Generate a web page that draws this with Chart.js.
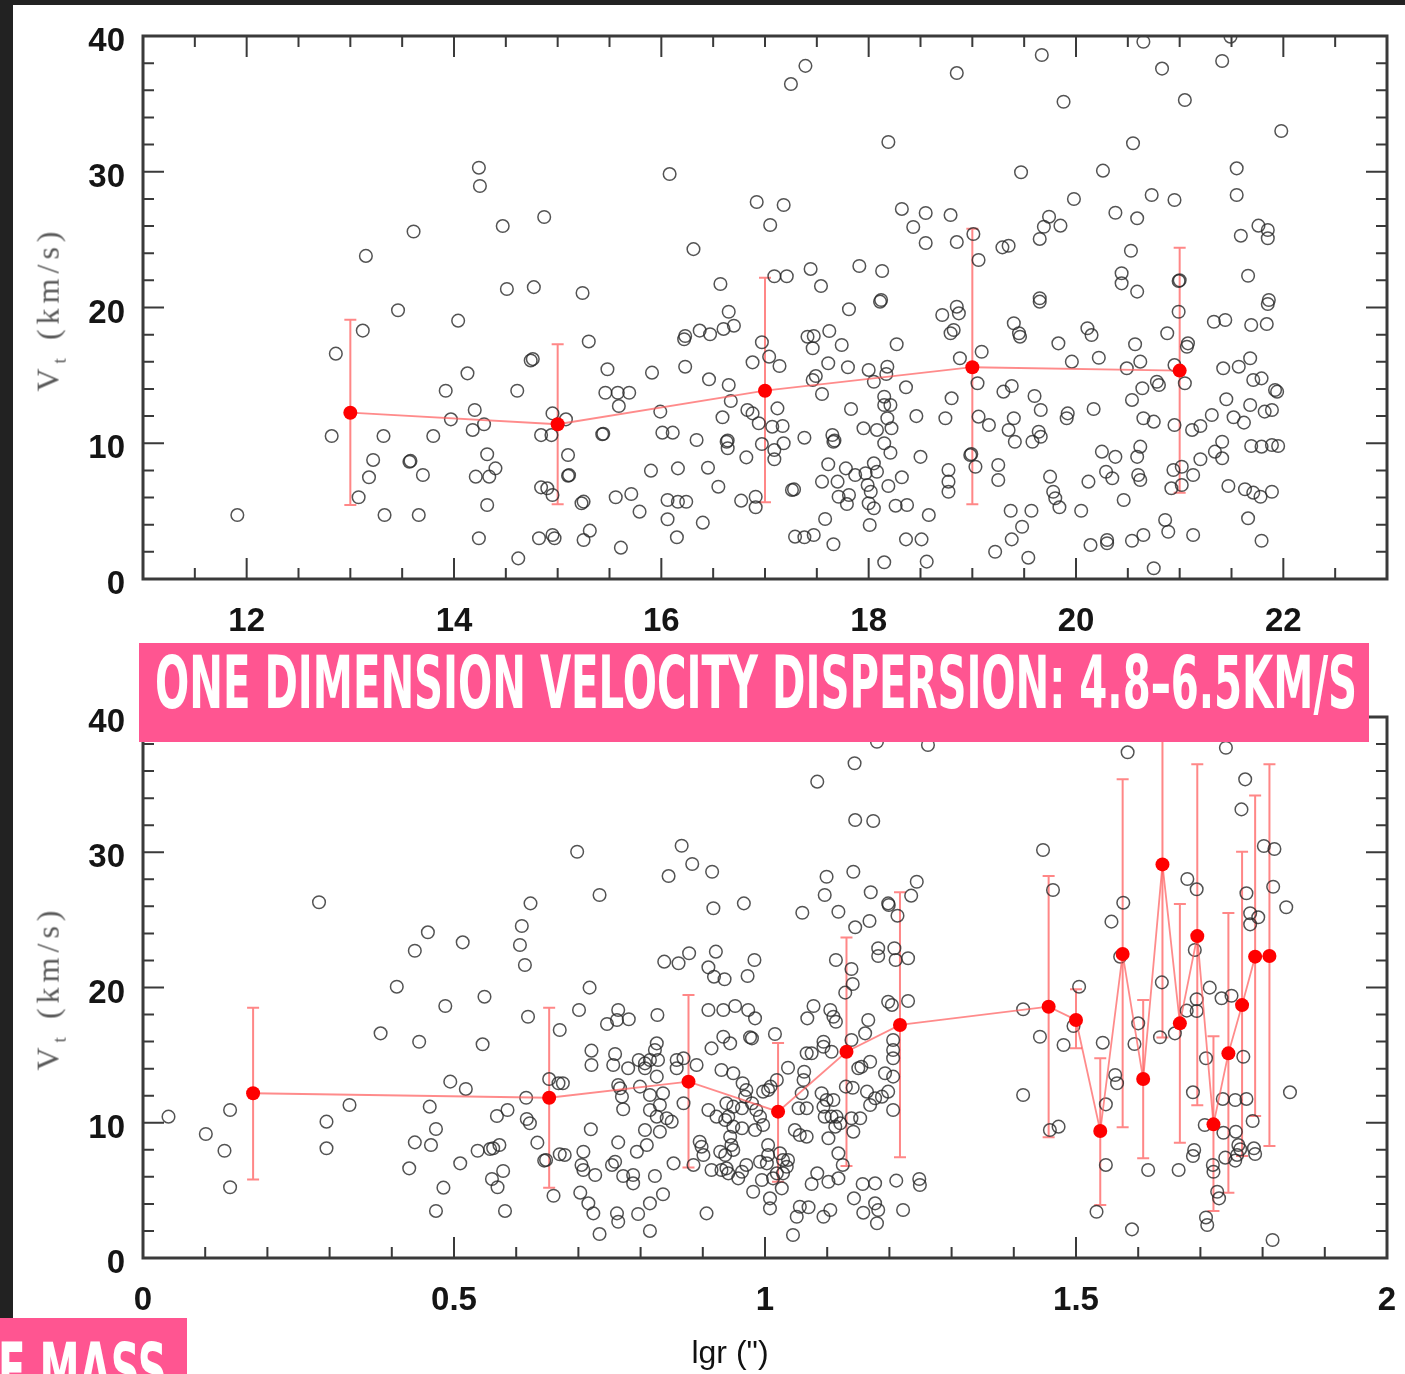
<!DOCTYPE html>
<html>
<head>
<meta charset="utf-8">
<script src="https://cdn.jsdelivr.net/npm/chart.js@4.4.1/dist/chart.umd.min.js"></script>
<style>
html, body { margin: 0; padding: 0; background: #fff; }
body { width: 1405px; height: 1374px; position: relative; overflow: hidden; font-family: "Liberation Sans", Arial, sans-serif; }
canvas { position: absolute; left: 0; }
#topChart { top: 0; }
#botChart { top: 650px; }
.edge { position: absolute; background: #222; z-index: 5; }
.ylab { position: absolute; font-family: "Liberation Serif", "DejaVu Serif", serif; font-size: 32px; color: #5a5a5a;
        white-space: nowrap; letter-spacing: 5px; transform: translate(-50%, -50%) rotate(-90deg); }
.ylab sub { font-size: 0.6em; vertical-align: -0.35em; }
.xlab { position: absolute; font-size: 32px; color: #111; white-space: nowrap; transform: translate(-50%, -50%); }
.pink { position: absolute; background: #ff5591; z-index: 6; }
.ptext { position: absolute; color: #fff; font-family: "DejaVu Sans Condensed", "DejaVu Sans", sans-serif; font-weight: bold;
         font-size: 73px; line-height: 73px; white-space: nowrap; transform-origin: 0 0; z-index: 7; }
</style>
</head>
<body>
<div class="edge" style="left:0;top:0;width:13px;height:1374px;"></div>
<div class="edge" style="left:0;top:0;width:1405px;height:5px;"></div>

<canvas id="topChart" width="1405" height="650"></canvas>
<canvas id="botChart" width="1405" height="724"></canvas>

<div class="ylab" style="left:50px;top:309px;">V<sub>t</sub> (km/s)</div>
<div class="ylab" style="left:50px;top:988px;">V<sub>t</sub> (km/s)</div>
<div class="xlab" style="left:730px;top:1352px;">lgr (")</div>

<div class="pink" style="left:139px;top:643px;width:1230px;height:99px;"></div>
<div class="ptext" id="bannerText" style="left:155px;top:646px;">ONE DIMENSION VELOCITY DISPERSION: 4.8–6.5KM/S</div>
<div class="pink" style="left:0;top:1318px;width:187px;height:60px;"></div>
<div class="ptext" id="massText" style="left:0;top:1333px;">E MASS</div>

<script>
// tick labels
const yTicks = [0, 10, 20, 30, 40];
const topXTicks = [12, 14, 16, 18, 20, 22];
const botXTicks = [0, 0.5, 1, 1.5, 2];

// top panel: binned means with error bars
const topMeanX = [13, 15, 17, 19, 21];
const topMeanY = [12.25, 11.4, 13.87, 15.6, 15.35];
const topErrLo = [5.45, 5.5, 5.65, 5.5, 6.36];
const topErrHi = [19.1, 17.3, 22.2, 25.8, 24.4];

// top panel: individual stars [x, Vt]
const topStars = [
  [13.46,19.8],[14.04,19.03],[13.12,18.3],[12.86,16.6],[14.13,15.15],[13.92,13.87],[14.61,13.87],[15.30,17.5],[14.74,16.1],[14.76,16.2],
  [14.20,12.45],[13.97,11.76],[14.29,11.4],[14.18,10.98],[14.95,12.2],[15.08,11.76],[14.84,10.6],[14.94,10.6],[12.82,10.53],[13.32,10.53],
  [13.80,10.53],[15.43,10.66],[15.44,10.7],[13.22,8.77],[13.57,8.64],[13.58,8.7],[13.18,7.49],[13.70,7.66],[14.32,9.19],[14.40,8.15],
  [14.34,7.54],[14.21,7.54],[13.08,6.02],[13.33,4.71],[13.66,4.71],[14.32,5.45],[14.24,3.0],[14.62,1.52],[14.84,6.75],[14.90,6.68],
  [14.95,6.19],[15.10,9.13],[15.10,7.61],[15.11,7.65],[15.23,5.58],[15.25,5.7],[14.82,3.0],[14.95,3.24],[14.97,3.0],[15.31,3.56],
  [15.25,2.87],[15.61,2.31],[15.56,6.02],[15.71,6.26],[15.79,4.96],[15.90,7.98],[16.16,8.15],[16.06,5.82],[16.16,5.69],[16.24,5.69],
  [16.06,4.4],[16.15,3.07],[16.40,4.15],[16.45,8.2],[16.55,6.8],[16.77,5.77],[16.91,6.06],[16.91,5.28],[16.82,8.96],[15.99,12.33],
  [16.01,10.78],[16.11,10.78],[16.34,10.24],[16.63,10.11],[16.64,10.2],[16.64,9.63],[16.59,11.91],[16.67,13.11],[16.65,14.29],[16.46,14.71],
  [15.91,15.2],[15.48,15.45],[15.46,13.72],[15.58,13.72],[15.69,13.72],[15.59,12.74],[16.22,17.66],[16.23,15.64],[16.47,18.03],[16.60,18.42],
  [16.70,18.66],[16.65,19.69],[16.97,17.44],[17.04,16.38],[17.14,15.69],[16.88,15.96],[16.83,12.45],[16.88,12.2],[16.94,11.47],[17.12,12.57],
  [17.07,11.22],[17.17,11.27],[16.97,9.94],[17.09,9.5],[17.09,8.82],[17.18,10.0],[17.26,6.56],[17.28,6.6],[17.29,3.12],
  [17.81,19.87],[18.11,20.43],[17.62,18.27],[17.41,17.85],[17.47,17.9],[17.46,17.0],[17.74,17.24],[18.27,17.29],[17.61,15.89],[17.80,15.6],
  [18.0,15.4],[18.18,15.64],[18.17,15.1],[18.05,14.53],[17.49,14.95],[17.46,14.66],[17.55,13.63],[17.83,12.52],[17.38,10.41],[17.65,10.61],
  [17.66,10.11],[17.67,10.2],[18.15,13.43],[18.15,12.82],[18.21,12.82],[18.18,11.84],[17.95,11.1],[18.08,10.98],[18.22,11.1],[18.15,10.0],
  [18.21,9.3],[18.36,14.12],[18.46,12.0],[18.50,9.0],[18.32,7.49],[18.19,6.85],[17.61,8.45],[17.78,8.15],[17.87,7.66],[17.97,7.79],
  [18.05,8.52],[18.08,7.9],[17.55,7.17],[17.70,7.17],[17.99,6.92],[18.02,6.43],[17.71,6.06],[17.81,6.19],[17.79,5.52],[18.0,5.58],
  [18.05,5.21],[18.26,5.4],[18.37,5.45],[18.01,3.98],[17.58,4.42],[17.38,3.07],[17.47,3.24],[17.66,2.56],[18.36,2.92],[18.51,2.92],
  [18.15,1.23],[18.56,1.28],[18.58,4.71],[18.74,11.84],[18.80,13.31],[18.71,19.45],[18.85,20.06],[18.87,19.57],[18.79,18.1],[18.82,18.34],
  [18.88,16.26],[19.09,16.74],[19.05,14.42],[18.98,9.13],[18.99,9.2],[19.03,8.27],[18.77,8.03],[18.77,7.17],[18.77,6.43],[19.06,11.96],
  [19.16,11.34],[19.25,8.4],[19.25,7.29],[19.30,13.8],[19.38,14.22],[19.40,18.84],[19.45,18.1],[19.46,17.85],[19.65,20.43],[19.60,13.48],
  [19.66,12.45],[19.40,11.84],[19.35,10.98],[19.41,10.11],[19.58,10.11],[19.64,10.85],[19.66,10.48],[19.92,12.2],[19.91,11.84],[20.17,12.52],
  [19.75,7.54],[19.78,6.43],[19.80,5.95],[19.84,5.28],[19.37,5.03],[19.57,5.03],[19.48,3.85],[19.38,2.92],[19.22,2.01],[19.54,1.57],
  [19.83,17.36],[19.96,16.01],[20.11,18.47],[20.15,17.97],[20.22,16.3],[20.05,5.03],[20.12,7.17],[20.25,9.38],[20.38,9.0],[20.29,7.9],
  [20.35,7.42],[20.46,5.82],[20.14,2.5],[20.30,2.63],[20.30,2.87],[20.54,2.82],[20.65,3.24],[20.75,0.79],[20.86,4.35],[20.89,3.48],
  [21.13,3.24],[20.54,13.19],[20.64,14.05],[20.49,15.52],[20.62,16.01],[20.57,17.29],[20.78,14.53],[20.80,14.29],[20.65,11.84],[20.75,11.59],
  [20.95,11.34],[20.62,9.75],[20.59,9.0],[20.60,7.66],[20.62,7.29],[20.94,8.03],[21.02,8.27],[21.13,7.66],[21.02,6.92],[20.92,6.68],
  [20.88,18.1],[20.99,19.69],[21.07,17.11],[21.08,17.36],[21.05,14.42],[20.95,15.76],[21.12,10.98],[21.20,11.27],[21.31,12.08],[21.20,8.82],
  [21.34,9.38],[21.41,8.89],[21.41,10.11],[21.47,6.85],[21.63,6.61],[21.71,6.36],[21.78,6.06],[21.89,6.43],[21.66,4.47],[21.79,2.82],
  [21.45,13.24],[21.68,12.82],[21.52,11.91],[21.62,11.52],[21.42,15.52],[21.57,15.64],[21.68,16.26],[21.71,14.66],[21.79,14.78],[21.92,13.92],
  [21.94,13.8],[21.82,12.33],[21.89,12.45],[21.69,9.8],[21.79,9.75],[21.89,9.87],[21.95,9.8],[21.33,18.95],[21.44,19.08],[21.69,18.71],
  [21.84,18.78],[21.85,20.26],
  [20.65,39.58],[19.67,38.6],[20.83,37.6],[21.41,38.16],[21.49,39.95],[19.88,35.16],[21.05,35.28],[21.98,33.0],[20.55,32.1],[19.47,29.96],
  [20.26,30.08],[21.55,30.25],[21.55,28.29],[19.98,27.99],[20.73,28.29],[20.95,27.92],[19.74,26.69],[19.69,25.95],[19.85,26.03],[19.65,25.05],
  [20.38,26.98],[20.59,26.57],[19.35,24.55],[19.29,24.43],[20.53,24.18],[21.76,26.03],[21.85,25.71],[21.85,25.1],[21.59,25.29],[21.66,22.34],
  [20.44,22.52],[20.44,21.78],[20.59,21.17],[20.99,21.95],[21.0,22.0],[19.65,20.68],[21.86,20.55],
  [11.91,4.71],[13.15,23.8],[13.61,25.6],[14.24,30.3],[14.25,28.95],[14.47,26.0],[14.87,26.67],[14.51,21.36],[14.77,21.5],[15.24,21.07],
  [16.08,29.83],[16.31,24.3],[16.57,21.73],[16.92,27.77],[17.05,26.08],[17.18,27.55],[17.09,22.3],[17.21,22.3],[17.25,36.46],[17.39,37.8],
  [17.44,22.84],[17.54,21.58],[17.91,23.06],[18.13,22.69],[18.19,32.19],[18.12,20.55],[18.32,27.26],[18.43,25.93],[18.55,26.96],[18.55,24.75],
  [18.79,26.81],[18.85,37.27],[18.85,24.82],[19.01,25.41],[19.06,23.5],[16.23,17.9],[16.37,18.3]
];

// bottom panel: binned means with error bars
const botMeanX = [0.177, 0.653, 0.877, 1.021, 1.131, 1.217, 1.456, 1.500, 1.539, 1.575, 1.608, 1.639, 1.667, 1.695, 1.721, 1.745, 1.767, 1.788, 1.811];
const botMeanY = [12.18, 11.85, 13.04, 10.82, 15.25, 17.23, 18.58, 17.6, 9.39, 22.48, 13.23, 29.1, 17.35, 23.8, 9.88, 15.13, 18.7, 22.28, 22.33];
const botErrLo = [5.8, 5.2, 6.7, 5.64, 6.8, 7.44, 8.92, 15.5, 3.92, 9.66, 7.37, 16.3, 8.53, 11.3, 3.47, 4.83, 7.54, 10.5, 8.28];
const botErrHi = [18.5, 18.5, 19.45, 15.9, 23.7, 27.04, 28.24, 19.87, 14.77, 35.4, 19.08, 42, 26.17, 36.5, 16.4, 25.5, 30.04, 34.2, 36.5];

// bottom panel: individual stars [lgr, Vt]
const botStars = [
  [0.041,10.45],[0.101,9.17],[0.140,10.94],[0.131,7.93],[0.140,5.23],[0.283,26.3],[0.382,16.61],[0.408,20.06],[0.437,22.72],[0.458,24.08],
  [0.514,23.34],[0.486,18.63],[0.444,15.99],[0.549,19.32],[0.546,15.8],[0.609,24.55],[0.606,23.14],[0.614,21.66],[0.623,26.22],[0.619,17.84],
  [0.332,11.31],[0.295,10.08],[0.295,8.11],[0.494,13.04],[0.519,12.5],[0.461,11.19],[0.471,9.54],[0.437,8.55],[0.463,8.35],[0.428,6.63],
  [0.483,5.2],[0.471,3.48],[0.510,7.0],[0.538,7.93],[0.558,8.06],[0.563,8.11],[0.573,8.35],[0.569,10.5],[0.586,10.94],[0.616,11.85],
  [0.617,10.28],[0.622,9.96],[0.634,8.53],[0.645,7.2],[0.648,7.25],[0.561,5.84],[0.570,5.23],[0.579,6.43],[0.582,3.48],[0.660,4.6],
  [0.653,13.23],[0.668,12.92],[0.670,16.86],[0.670,7.67],
  [0.698,30.04],[0.734,26.84],[0.845,28.24],[0.866,30.48],[0.883,29.13],[0.915,28.56],[0.917,25.86],[0.966,26.22],[1.084,35.22],[1.144,36.58],
  [1.180,38.17],[1.262,37.93],[1.145,32.38],[1.174,32.31],[1.099,28.19],[1.096,26.84],[1.142,28.56],[1.060,25.53],[1.118,25.6],[1.170,27.04],
  [1.198,26.22],[1.199,26.1],[1.244,27.82],[1.235,26.79],[1.213,25.31],[1.145,24.45],[1.168,24.92],[1.139,21.37],[1.141,20.26],[1.129,19.62],
  [1.114,22.03],[1.182,22.9],[1.182,22.33],[1.208,22.9],[1.210,22.03],[1.230,22.16],[1.198,18.95],[1.204,18.71],[1.230,19.0],[1.206,16.12],
  [1.206,15.38],[1.206,14.77],[1.193,13.66],[1.206,13.41],[1.198,12.3],[1.206,10.94],[1.166,17.6],[1.161,16.61],[1.169,14.51],[1.155,14.14],
  [1.150,14.03],[1.139,16.12],[1.164,12.3],[1.177,11.81],[1.188,11.93],[1.169,11.31],[1.130,12.67],[1.141,12.59],[1.139,10.33],[1.153,10.33],
  [1.142,9.34],[1.118,7.74],[1.125,6.88],[1.157,5.47],[1.177,5.52],[1.143,4.41],[1.158,3.35],[1.177,4.04],[1.182,3.55],[1.180,2.57],
  [1.211,5.72],[1.248,5.84],[1.222,3.55],[1.067,15.14],[1.075,15.14],[1.068,17.72],[1.078,18.63],[1.094,15.99],[1.094,15.62],[1.105,18.34],
  [1.110,17.84],[1.114,17.47],[1.107,15.25],[1.063,13.77],[1.062,13.16],[1.059,12.18],[1.037,14.07],[1.091,12.18],[1.099,11.68],[1.094,11.19],
  [1.110,11.68],[1.096,10.45],[1.107,10.45],[1.115,10.45],[1.121,9.96],[1.113,9.71],[1.054,11.07],[1.067,11.07],[1.048,9.46],[1.056,9.09],
  [1.067,8.97],[1.102,8.85],[1.084,6.26],[1.075,5.47],[1.102,5.64],[1.118,5.89],[1.056,3.79],[1.070,3.75],[1.051,3.05],[1.094,3.05],
  [1.105,3.55],[1.045,1.7],[1.016,16.56],[1.009,12.67],[1.005,12.42],[0.997,12.3],[1.019,13.16],[0.964,12.92],[0.970,12.42],[0.968,11.93],
  [0.963,11.07],[0.949,13.66],[0.930,13.9],[0.938,11.44],[0.949,11.19],[0.941,10.45],[0.979,11.44],[0.986,10.94],[0.992,10.45],[0.909,10.94],
  [0.922,10.45],[0.936,10.2],[0.949,9.71],[0.963,9.59],[0.944,8.97],[0.946,8.35],[0.949,7.99],[0.984,9.46],[0.997,9.83],[1.005,8.35],
  [1.005,7.61],[1.024,7.74],[1.029,7.25],[1.037,7.25],[1.035,6.75],[1.029,6.26],[0.992,7.12],[1.003,7.0],[0.970,6.88],[0.963,6.38],
  [0.957,5.89],[0.928,7.86],[0.936,7.61],[0.938,6.63],[0.941,6.26],[0.930,6.51],[0.914,6.51],[0.895,8.6],[0.898,8.23],[0.901,7.61],
  [0.885,6.88],[0.981,4.9],[1.008,4.41],[1.008,3.67],[0.995,5.77],[1.013,5.89],[1.027,5.15],[1.019,6.26],[0.906,3.3],[0.909,18.34],
  [0.933,18.34],[0.952,18.63],[0.973,18.34],[0.984,17.72],[0.976,16.32],[0.979,16.24],[0.914,15.5],[0.933,16.36],[0.944,15.87],[0.838,21.91],
  [0.861,21.79],[0.878,22.53],[0.921,22.65],[0.909,21.49],[0.918,20.8],[0.935,20.61],[0.983,22.03],[0.972,20.85],[0.718,19.99],[0.701,18.34],
  [0.764,18.34],[0.762,17.6],[0.781,17.65],[0.746,17.3],[0.827,17.97],[0.721,15.33],[0.721,14.27],[0.759,15.08],[0.756,14.27],[0.780,14.03],
  [0.797,14.64],[0.807,14.39],[0.815,14.64],[0.828,14.64],[0.826,15.87],[0.823,15.38],[0.807,14.03],[0.826,13.41],[0.858,14.64],[0.869,14.77],
  [0.858,14.03],[0.890,14.27],[0.675,12.92],[0.764,12.79],[0.767,12.55],[0.799,12.67],[0.815,12.05],[0.770,11.93],[0.772,11.0],[0.836,12.18],
  [0.831,11.31],[0.815,10.94],[0.826,10.45],[0.842,10.33],[0.850,10.08],[0.869,11.44],[0.720,9.52],[0.764,8.55],[0.807,9.46],[0.810,8.35],
  [0.794,7.86],[0.831,9.34],[0.678,7.62],[0.708,7.86],[0.705,6.88],[0.708,6.51],[0.727,6.14],[0.754,6.88],[0.759,7.12],[0.772,6.06],
  [0.788,6.14],[0.788,5.52],[0.823,6.06],[0.853,7.0],[0.703,4.83],[0.716,4.04],[0.724,3.3],[0.734,1.77],[0.762,3.3],[0.764,2.68],
  [0.796,3.25],[0.815,4.04],[0.836,4.71],[0.815,2.0],
  [1.583,37.39],[1.741,37.73],[1.772,35.39],[1.766,33.17],[1.447,30.17],[1.802,30.46],[1.819,30.24],[1.463,27.21],[1.679,28.02],[1.694,27.26],
  [1.774,26.97],[1.817,27.45],[1.838,25.93],[1.576,26.27],[1.557,24.87],[1.780,25.49],[1.793,25.19],[1.780,24.67],[1.691,22.77],[1.571,22.28],
  [1.505,20.06],[1.638,20.38],[1.715,19.99],[1.734,19.2],[1.750,19.39],[1.694,19.13],[1.694,18.26],[1.678,18.29],[1.415,18.39],[1.496,17.15],
  [1.600,17.35],[1.442,16.36],[1.480,15.75],[1.543,15.92],[1.594,15.82],[1.635,16.32],[1.659,16.61],[1.709,14.77],[1.769,14.88],[1.563,13.53],
  [1.566,12.92],[1.415,12.05],[1.688,12.25],[1.844,12.25],[1.548,11.36],[1.736,11.76],[1.756,11.68],[1.774,11.76],[1.458,9.46],[1.472,9.71],
  [1.707,9.83],[1.737,9.26],[1.757,9.34],[1.784,10.13],[1.761,8.35],[1.764,8.04],[1.756,7.2],[1.786,8.11],[1.690,7.99],[1.740,7.42],
  [1.720,6.88],[1.548,6.88],[1.616,6.51],[1.665,6.51],[1.727,4.9],[1.533,3.42],[1.709,3.0],[1.590,2.12],[1.816,1.33],[1.688,7.54],
  [1.721,6.38],[1.730,4.41],[1.711,2.44],[1.759,7.62],[1.788,7.69],[1.249,5.4]
];

// frame with inward ticks on all four sides
const framePlugin = {
  id: 'frame',
  afterDraw(chart, args, o) {
    const { ctx, chartArea: a, scales } = chart;
    const marks = (scale, step, major) => {
      const out = [];
      const n = Math.round((scale.max - scale.min) / step);
      for (let i = 1; i < n; i++) {
        const v = scale.min + i * step;
        const isMajor = Math.abs(v / major - Math.round(v / major)) < 1e-6;
        out.push([scale.getPixelForValue(v), isMajor ? 21 : 11]);
      }
      return out;
    };
    ctx.save();
    ctx.strokeStyle = '#3a3a3a';
    ctx.lineWidth = 2;
    ctx.beginPath();
    marks(scales.x, o.xMinor, o.xMajor).forEach(([p, len]) => {
      ctx.moveTo(p, a.bottom); ctx.lineTo(p, a.bottom - len);
      ctx.moveTo(p, a.top); ctx.lineTo(p, a.top + len);
    });
    marks(scales.y, 2, 10).forEach(([p, len]) => {
      ctx.moveTo(a.left, p); ctx.lineTo(a.left + len, p);
      ctx.moveTo(a.right, p); ctx.lineTo(a.right - len, p);
    });
    ctx.stroke();
    ctx.lineWidth = 3;
    ctx.strokeRect(a.left, a.top, a.right - a.left, a.bottom - a.top);
    ctx.restore();
  }
};

// vertical error bars with caps for the means dataset
const errorBarPlugin = {
  id: 'errorBars',
  beforeDatasetsDraw(chart) {
    const ds = chart.data.datasets[0];
    const { ctx, chartArea: a, scales: { x, y } } = chart;
    ctx.save();
    ctx.beginPath();
    ctx.rect(a.left, a.top, a.right - a.left, a.bottom - a.top);
    ctx.clip();
    ctx.strokeStyle = 'rgba(255,95,95,0.75)';
    ctx.lineWidth = 2;
    ds.data.forEach((p, i) => {
      const px = x.getPixelForValue(p.x);
      const lo = y.getPixelForValue(ds.errLo[i]);
      const hi = y.getPixelForValue(ds.errHi[i]);
      ctx.beginPath();
      ctx.moveTo(px, lo); ctx.lineTo(px, hi);
      ctx.moveTo(px - 6, lo); ctx.lineTo(px + 6, lo);
      ctx.moveTo(px - 6, hi); ctx.lineTo(px + 6, hi);
      ctx.stroke();
    });
    ctx.restore();
  }
};

Chart.defaults.font.family = '"Liberation Sans", Arial, sans-serif';

function makePanel(id, stars, meanX, meanY, errLo, errHi, xr) {
  const ctx = document.getElementById(id).getContext('2d');
  const tickFont = { size: 33, weight: 'bold' };
  return new Chart(ctx, {
    type: 'scatter',
    data: {
      datasets: [
        {
          data: meanX.map((x, i) => ({ x: x, y: meanY[i] })),
          errLo: errLo,
          errHi: errHi,
          showLine: true,
          borderColor: 'rgba(255,90,90,0.7)',
          borderWidth: 1.8,
          pointRadius: 7,
          pointBackgroundColor: '#ff0000',
          pointBorderColor: '#ff0000',
          pointBorderWidth: 0,
          order: 0
        },
        {
          data: stars.map(p => ({ x: p[0], y: p[1] })),
          pointRadius: 6.3,
          pointBackgroundColor: 'rgba(0,0,0,0)',
          pointBorderColor: 'rgba(40,40,40,0.8)',
          pointBorderWidth: 1.5,
          order: 1
        }
      ]
    },
    options: {
      responsive: false,
      animation: false,
      devicePixelRatio: 1,
      layout: { padding: { left: 0, right: 18, top: xr.padTop, bottom: 0 } },
      plugins: {
        legend: { display: false },
        tooltip: { enabled: false },
        frame: { xMinor: xr.minor, xMajor: xr.major }
      },
      scales: {
        x: {
          type: 'linear',
          min: xr.min,
          max: xr.max,
          afterBuildTicks: s => { s.ticks = xr.ticks.map(v => ({ value: v })); },
          afterFit: s => { s.height = xr.axisH; s.paddingLeft = 0; s.paddingRight = 0; },
          grid: { display: false, drawTicks: false },
          border: { display: false },
          ticks: { padding: 23, color: '#151515', font: tickFont, maxRotation: 0, autoSkip: false,
                   callback: v => String(v) }
        },
        y: {
          type: 'linear',
          min: 0,
          max: 40,
          afterBuildTicks: s => { s.ticks = yTicks.map(v => ({ value: v })); },
          afterFit: s => { s.width = 143; s.paddingTop = 0; s.paddingBottom = 0; },
          grid: { display: false, drawTicks: false },
          border: { display: false },
          ticks: { padding: 18, labelOffset: 6, color: '#151515', font: tickFont }
        }
      }
    },
    plugins: [errorBarPlugin, framePlugin]
  });
}

makePanel('topChart', topStars, topMeanX, topMeanY, topErrLo, topErrHi,
  { min: 11, max: 23, ticks: topXTicks, minor: 0.5, major: 2, padTop: 36, axisH: 71 });
makePanel('botChart', botStars, botMeanX, botMeanY, botErrLo, botErrHi,
  { min: 0, max: 2, ticks: botXTicks, minor: 0.1, major: 0.5, padTop: 67, axisH: 116 });

// squeeze the condensed slide captions to the width they take in the picture
const banner = document.getElementById('bannerText');
const squeeze = 1202 / banner.offsetWidth;
banner.style.transform = 'scaleX(' + squeeze + ')';
const mass = document.getElementById('massText');
mass.style.transform = 'scaleX(' + squeeze + ')';
mass.style.left = (167 - mass.offsetWidth * squeeze) + 'px';
</script>
</body>
</html>
